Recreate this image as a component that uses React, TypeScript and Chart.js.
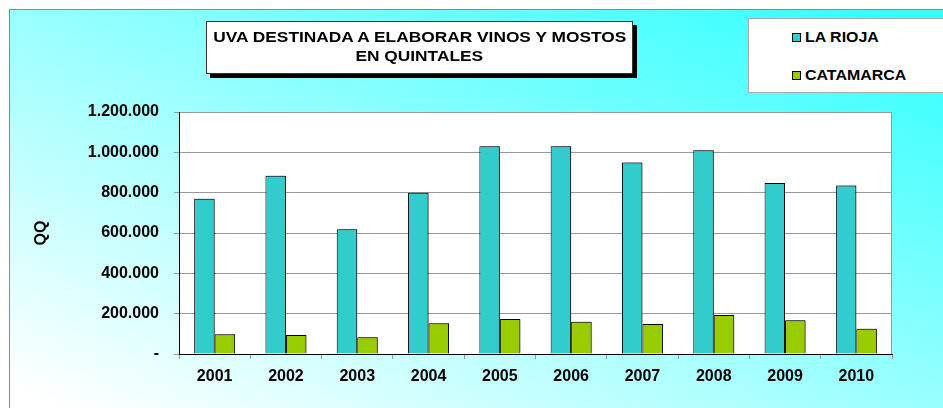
import React, { useEffect, useRef } from "react";
import { Chart, registerables } from "chart.js";

Chart.register(...registerables);

const years = ["2001", "2002", "2003", "2004", "2005", "2006", "2007", "2008", "2009", "2010"];
const laRioja = [770000, 884000, 619000, 800000, 1030000, 1030000, 950000, 1010000, 848000, 836000];
const catamarca = [98000, 94000, 83000, 152000, 174000, 160000, 149000, 193000, 167000, 125000];
const seriesNames = ["LA RIOJA", "CATAMARCA"];
const seriesColors = ["#33CCCC", "#99CC00"];
const titleLines = ["UVA DESTINADA A ELABORAR VINOS Y MOSTOS", "EN QUINTALES"];
const yAxisTitle = "QQ";
const yMax = 1200000;
const yStep = 200000;

const FONT = '"Liberation Sans", Arial, Helvetica, sans-serif';

const fmt = (v: number) =>
  v === 0 ? "-" : String(Math.round(v)).replace(/\B(?=(\d{3})+(?!\d))/g, ".");

const plotAreaPlugin = {
  id: "plotArea",
  beforeDraw(chart: any) {
    const { ctx, chartArea: a } = chart;
    ctx.save();
    ctx.fillStyle = "#ffffff";
    ctx.fillRect(a.left, a.top, a.width, a.height);
    ctx.strokeStyle = "#999999";
    ctx.lineWidth = 1;
    ctx.strokeRect(a.left + 0.5, a.top + 0.5, a.width - 1, a.height);
    ctx.restore();
  },
  beforeDatasetsDraw(chart: any) {
    const { ctx } = chart;
    ctx.save();
    ctx.shadowColor = "rgba(0,0,0,0.35)";
    ctx.shadowOffsetX = 2;
    ctx.shadowOffsetY = -1;
    ctx.shadowBlur = 2;
  },
  afterDatasetsDraw(chart: any) {
    chart.ctx.restore();
  },
};

export default function App() {
  const canvasRef = useRef<HTMLCanvasElement | null>(null);

  useEffect(() => {
    if (!canvasRef.current) return;
    const tickFont = { family: FONT, size: 16, weight: "bold" as const };
    const chart = new Chart(canvasRef.current, {
      type: "bar",
      data: {
        labels: years,
        datasets: [
          {
            label: seriesNames[0],
            data: laRioja,
            backgroundColor: seriesColors[0],
            borderColor: "#000000",
            borderWidth: 1,
            categoryPercentage: 0.575,
            barPercentage: 1.0,
          },
          {
            label: seriesNames[1],
            data: catamarca,
            backgroundColor: seriesColors[1],
            borderColor: "#000000",
            borderWidth: 1,
            categoryPercentage: 0.575,
            barPercentage: 1.0,
          },
        ],
      },
      options: {
        responsive: false,
        animation: false,
        devicePixelRatio: 1,
        layout: { padding: { top: 102, right: 51, left: 0, bottom: 0 } },
        plugins: {
          legend: { display: false },
          tooltip: { enabled: false },
          title: { display: false },
        },
        scales: {
          x: {
            ticks: { color: "#000", font: tickFont, padding: 8, maxRotation: 0, autoSkip: false },
            grid: { offset: true, drawOnChartArea: false, drawTicks: true, tickLength: 5, color: "#999999" },
            border: { display: true, color: "#000000", width: 1 },
            afterFit: (s: any) => {
              s.height = 54;
            },
          },
          y: {
            min: 0,
            max: yMax,
            ticks: {
              stepSize: yStep,
              color: "#000",
              font: tickFont,
              padding: 15,
              callback: (v: any) => fmt(Number(v)),
            },
            grid: { color: "#999999", tickLength: 5, drawTicks: true },
            border: { display: true, color: "#000000", width: 1 },
            title: {
              display: true,
              text: yAxisTitle,
              color: "#000",
              font: { family: FONT, size: 16, weight: "bold" },
              padding: { top: 22, bottom: 0 },
            },
            afterFit: (s: any) => {
              s.width = 169;
            },
          },
        },
      },
      plugins: [plotAreaPlugin],
    });
    return () => chart.destroy();
  }, []);

  return (
    <div
      style={{
        position: "fixed",
        left: 9,
        top: 9,
        width: 934,
        height: 399,
        borderTop: "1px solid #888888",
        borderLeft: "1px solid #888888",
        background: "linear-gradient(to top right, #ffffff 3%, #33ffff 97%)",
        overflow: "hidden",
        fontFamily: FONT,
      }}
    >
      <canvas
        ref={canvasRef}
        width={933}
        height={398}
        style={{ position: "absolute", left: 0, top: 0, display: "block" }}
      />
      <div
        style={{
          position: "absolute",
          left: 196,
          top: 11,
          width: 425,
          height: 45,
          background: "#ffffff",
          border: "1px solid #333333",
          boxShadow: "4px 4px 0 #000000",
          textAlign: "center",
          paddingTop: 6,
          boxSizing: "content-box",
        }}
      >
        {titleLines.map((t, i) => (
          <div key={i} style={{ height: 18.5, lineHeight: "18.5px", whiteSpace: "nowrap" }}>
            <span
              style={{
                display: "inline-block",
                fontSize: 15,
                fontWeight: "bold",
                color: "#000",
                transform: "scaleX(1.155)",
                transformOrigin: "center",
              }}
            >
              {t}
            </span>
          </div>
        ))}
      </div>
      <div
        style={{
          position: "absolute",
          left: 738,
          top: 8,
          width: 220,
          height: 73,
          background: "#ffffff",
          border: "1px solid #aaaaaa",
        }}
      >
        {seriesNames.map((name, i) => (
          <div
            key={name}
            style={{
              position: "absolute",
              left: 43,
              top: i === 0 ? 8 : 46,
              height: 20,
              display: "flex",
              alignItems: "center",
              whiteSpace: "nowrap",
            }}
          >
            <span
              style={{
                display: "inline-block",
                width: 7,
                height: 7,
                background: seriesColors[i],
                border: "1px solid #000",
                marginRight: 4,
              }}
            />
            <span
              style={{
                display: "inline-block",
                fontSize: 14,
                fontWeight: "bold",
                color: "#000",
                transform: "scaleX(1.14)",
                transformOrigin: "left center",
              }}
            >
              {name}
            </span>
          </div>
        ))}
      </div>
    </div>
  );
}
